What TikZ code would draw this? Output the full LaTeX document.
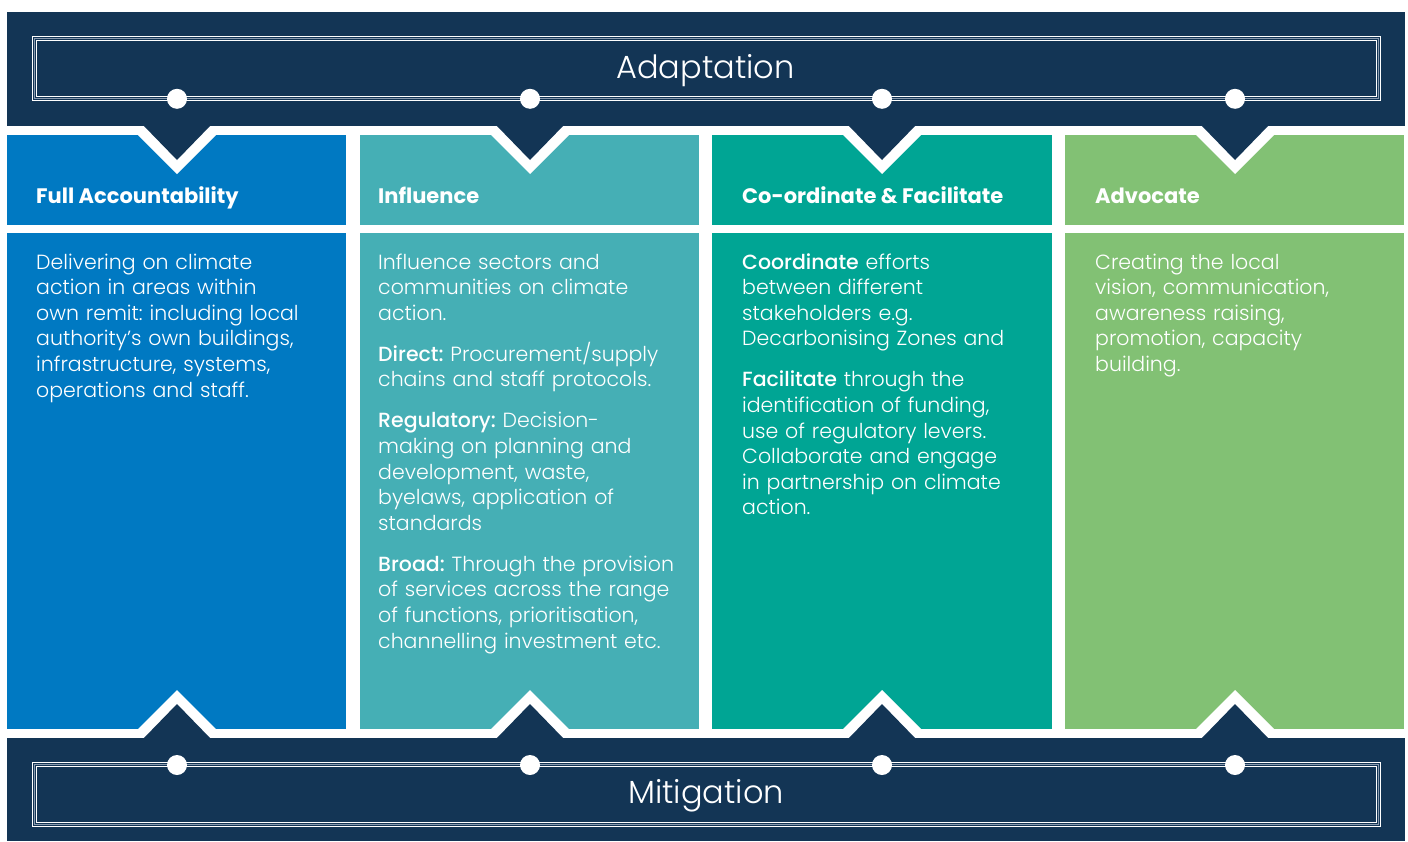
\documentclass[tikz,border=0pt]{standalone}
\usepackage{fontspec}
\setmainfont{Poppins}[UprightFont=* Light, BoldFont=* Medium]
\newfontfamily\hdfont{Poppins}[UprightFont=* Bold]
\newfontfamily\bnfont{Poppins}[UprightFont=* Light]
\frenchspacing
\definecolor{navy}{HTML}{133555}
\definecolor{cA}{HTML}{0079C2}
\definecolor{cB}{HTML}{45AFB5}
\definecolor{cC}{HTML}{00A594}
\definecolor{cD}{HTML}{82C174}
\definecolor{lgray}{HTML}{8A9BB0}
\tikzset{
  hdr/.style={anchor=base west, inner sep=0, text=white, font=\hdfont\fontsize{21}{25}\selectfont},
  bodytxt/.style={anchor=base west, inner sep=0, text=white, align=left, text width=325pt,
    font=\frenchspacing\fontsize{20.5}{25.6}\selectfont},
  bannertxt/.style={anchor=base, inner sep=0, text=white, font=\bnfont\fontsize{32}{38}\selectfont},
  dot/.style={circle, fill=white, inner sep=0, minimum size=20pt},
}
\begin{document}
\begin{tikzpicture}[x=1pt,y=-1pt]
\useasboundingbox (0,0) rectangle (1408,841);
% columns
\foreach \xa/\xb/\c in {7/346/cA, 359.5/699/cB, 712/1052/cC, 1065/1404/cD}{
  \fill[\c] (\xa,135) rectangle (\xb,225);
  \fill[\c] (\xa,233) rectangle (\xb,729);
}
% white chevron outlines
\foreach \cx in {177,530,882,1235}{
  \fill[white] (\cx-48,126) -- (\cx,174) -- (\cx+48,126) -- cycle;
  \fill[white] (\cx-48,738) -- (\cx,690) -- (\cx+48,738) -- cycle;
}
% banners
\fill[navy] (7,12) rectangle (1405,126);
\fill[navy] (7,738) rectangle (1405,841);
\foreach \cx in {177,530,882,1235}{
  \fill[navy] (\cx-34,125) -- (\cx,160) -- (\cx+34,125) -- cycle;
  \fill[navy] (\cx-34,739) -- (\cx,704) -- (\cx+34,739) -- cycle;
}
% double borders
\draw[lgray, line width=1.4pt] (34.5,38.5) rectangle (1378.5,98.5);
\draw[white, line width=1.5pt] (32.5,36.5) rectangle (1380.5,100.5);
\draw[white, line width=1.5pt] (36.5,40.5) rectangle (1376.5,96.5);
\draw[lgray, line width=1.4pt] (34.5,764.7) rectangle (1378.5,824.7);
\draw[white, line width=1.5pt] (32.5,762.7) rectangle (1380.5,826.7);
\draw[white, line width=1.5pt] (36.5,766.7) rectangle (1376.5,822.7);
% dots
\foreach \cx/\n in {177/1,530/2,882/3,1235/4}{
  \node[dot] (td\n) at (\cx,98.8) {};
  \node[dot] (bd\n) at (\cx,765) {};
}
% banner texts
\node[bannertxt] (adapt) at (705.5,78) {Adaptation};
\node[bannertxt] (mitig) at (706,803) {Mitigation};
% headers
\node[hdr] (h1) at (36,203) {Full Accountability};
\node[hdr] (h2) at (378,203) {Influence};
\node[hdr] (h3) at (742,203) {Co-ordinate \& Facilitate};
\node[hdr] (h4) at (1095,203) {Advocate};
% bodies
\node[bodytxt] (b1) at (36,269) {Delivering on climate\\action in areas within\\own remit: including local\\authority’s own buildings,\\infrastructure, systems,\\operations and staff.};
\node[bodytxt] (b2) at (378,269) {Influence sectors and\\communities on climate\\action.\\[15.4pt]
\textbf{Direct:} Procurement/supply\\chains and staff protocols.\\[15.4pt]
\textbf{Regulatory:} Decision-\\making on planning and\\development, waste,\\byelaws, application of\\standards\\[15.4pt]
\textbf{Broad:} Through the provision\\of services across the range\\of functions, prioritisation,\\channelling investment etc.};
\node[bodytxt] (b3) at (742,269) {\textbf{Coordinate} efforts\\between different\\stakeholders e.g.\\Decarbonising Zones and\\[15.4pt]
\textbf{Facilitate} through the\\identification of funding,\\use of regulatory levers.\\Collaborate and engage\\in partnership on climate\\action.};
\node[bodytxt] (b4) at (1095,269) {Creating the local\\vision, communication,\\awareness raising,\\promotion, capacity\\building.};
\end{tikzpicture}
\end{document}
